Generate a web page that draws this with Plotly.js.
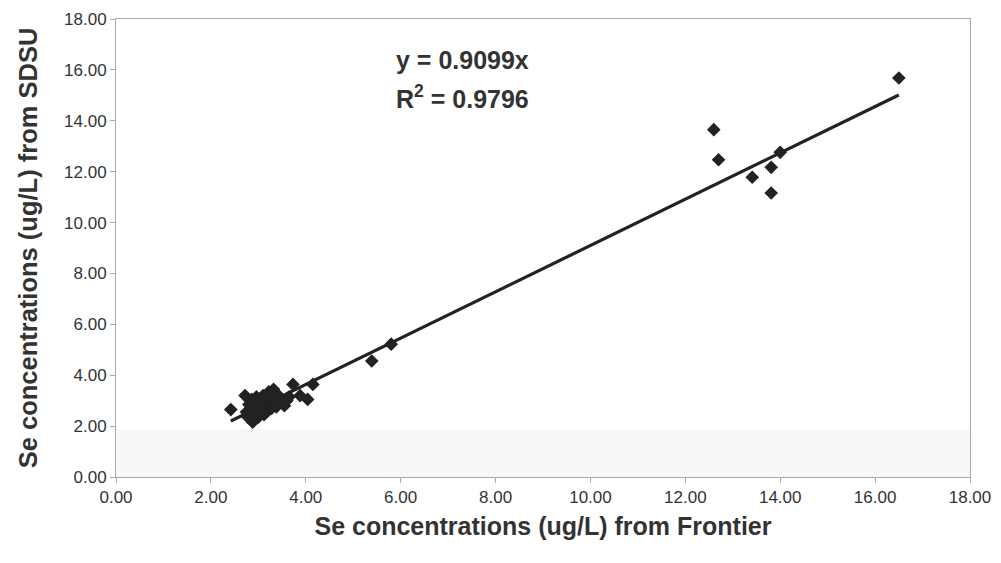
<!DOCTYPE html>
<html>
<head>
<meta charset="utf-8">
<script src="https://cdn.plot.ly/plotly-3.0.1.min.js"></script>
<style>html,body{margin:0;padding:0;background:#fff;}#chart{width:1001px;height:563px;}</style>
</head>
<body>
<div id="chart"></div>
<script>
// Se concentrations (ug/L): Frontier (x) vs SDSU (y)
const frontier = [2.42, 2.72, 2.75, 2.78, 2.80, 2.82, 2.85, 2.86, 2.88, 2.90, 2.92, 2.95, 2.96, 2.98, 3.00,
  3.02, 3.05, 3.06, 3.08, 3.10, 3.12, 3.15, 3.18, 3.20, 3.22, 3.25, 3.28, 3.30, 3.32, 3.35,
  3.38, 3.40, 3.45, 3.50, 3.55, 3.60, 3.65, 3.73, 3.88, 4.04, 4.15,
  5.39, 5.80, 12.60, 12.70, 13.41, 13.81, 13.81, 14.00, 16.50];
const sdsu = [2.65, 3.20, 2.55, 2.35, 2.85, 2.60, 2.45, 3.05, 2.15, 2.70, 2.95, 2.50, 3.15, 2.80, 2.35,
  2.65, 3.00, 2.55, 2.80, 3.20, 2.45, 2.70, 2.95, 2.60, 3.35, 2.85, 2.70, 3.10, 3.45, 2.90,
  2.75, 3.25, 3.05, 2.95, 2.80, 3.00, 3.15, 3.64, 3.20, 3.05, 3.64,
  4.56, 5.22, 13.65, 12.47, 11.78, 12.17, 11.16, 12.76, 15.68];
const slope = 0.9099;
const r2 = 0.9796;
const tickVals = [0, 2, 4, 6, 8, 10, 12, 14, 16, 18];

const xMin = Math.min(...frontier), xMax = Math.max(...frontier);
const trendX = [xMin, xMax];
const trendY = trendX.map(v => slope * v);

const font = "'Liberation Sans', Arial, sans-serif";
const data = [
  {x: trendX, y: trendY, type: 'scatter', mode: 'lines',
   line: {color: '#222', width: 3.2}, hoverinfo: 'skip', showlegend: false},
  {x: frontier, y: sdsu, type: 'scatter', mode: 'markers',
   marker: {symbol: 'diamond', size: 10.5, color: '#222'}, showlegend: false}
];
const axisCommon = {
  range: [0, 18], tickvals: tickVals, tickformat: '.2f', showgrid: false, zeroline: false,
  showline: true, linecolor: '#aaa', linewidth: 1, mirror: true,
  ticks: 'outside', ticklen: 5, tickcolor: '#aaa',
  tickfont: {family: font, size: 17, color: '#333'}
};
const layout = {
  width: 1001, height: 563,
  margin: {l: 116, r: 31, t: 19, b: 86},
  paper_bgcolor: '#fff', plot_bgcolor: '#fff',
  xaxis: Object.assign({}, axisCommon, {
    title: {text: 'Se concentrations (ug/L) from Frontier', font: {family: font, size: 25, color: '#333', weight: 'bold'}, standoff: 11}
  }),
  yaxis: Object.assign({}, axisCommon, {
    title: {text: 'Se concentrations (ug/L) from SDSU', font: {family: font, size: 25.5, color: '#333', weight: 'bold'}, standoff: 19}
  }),
  shapes: [{type: 'rect', xref: 'paper', yref: 'paper', x0: 0, x1: 1, y0: 0, y1: 0.105,
            fillcolor: '#f8f8f8', line: {width: 0}, layer: 'below'}],
  annotations: [
    {xref: 'paper', yref: 'paper', x: 0.325, y: 0.91, xanchor: 'left', yanchor: 'middle', showarrow: false,
     text: 'y = ' + slope.toFixed(4) + 'x', font: {family: font, size: 25, color: '#333', weight: 'bold'}},
    {xref: 'paper', yref: 'paper', x: 0.325, y: 0.83, xanchor: 'left', yanchor: 'middle', showarrow: false,
     text: 'R<sup>2</sup> = ' + r2.toFixed(4), font: {family: font, size: 25, color: '#333', weight: 'bold'}}
  ]
};
Plotly.newPlot('chart', data, layout, {displayModeBar: false, staticPlot: true});
</script>
</body>
</html>
